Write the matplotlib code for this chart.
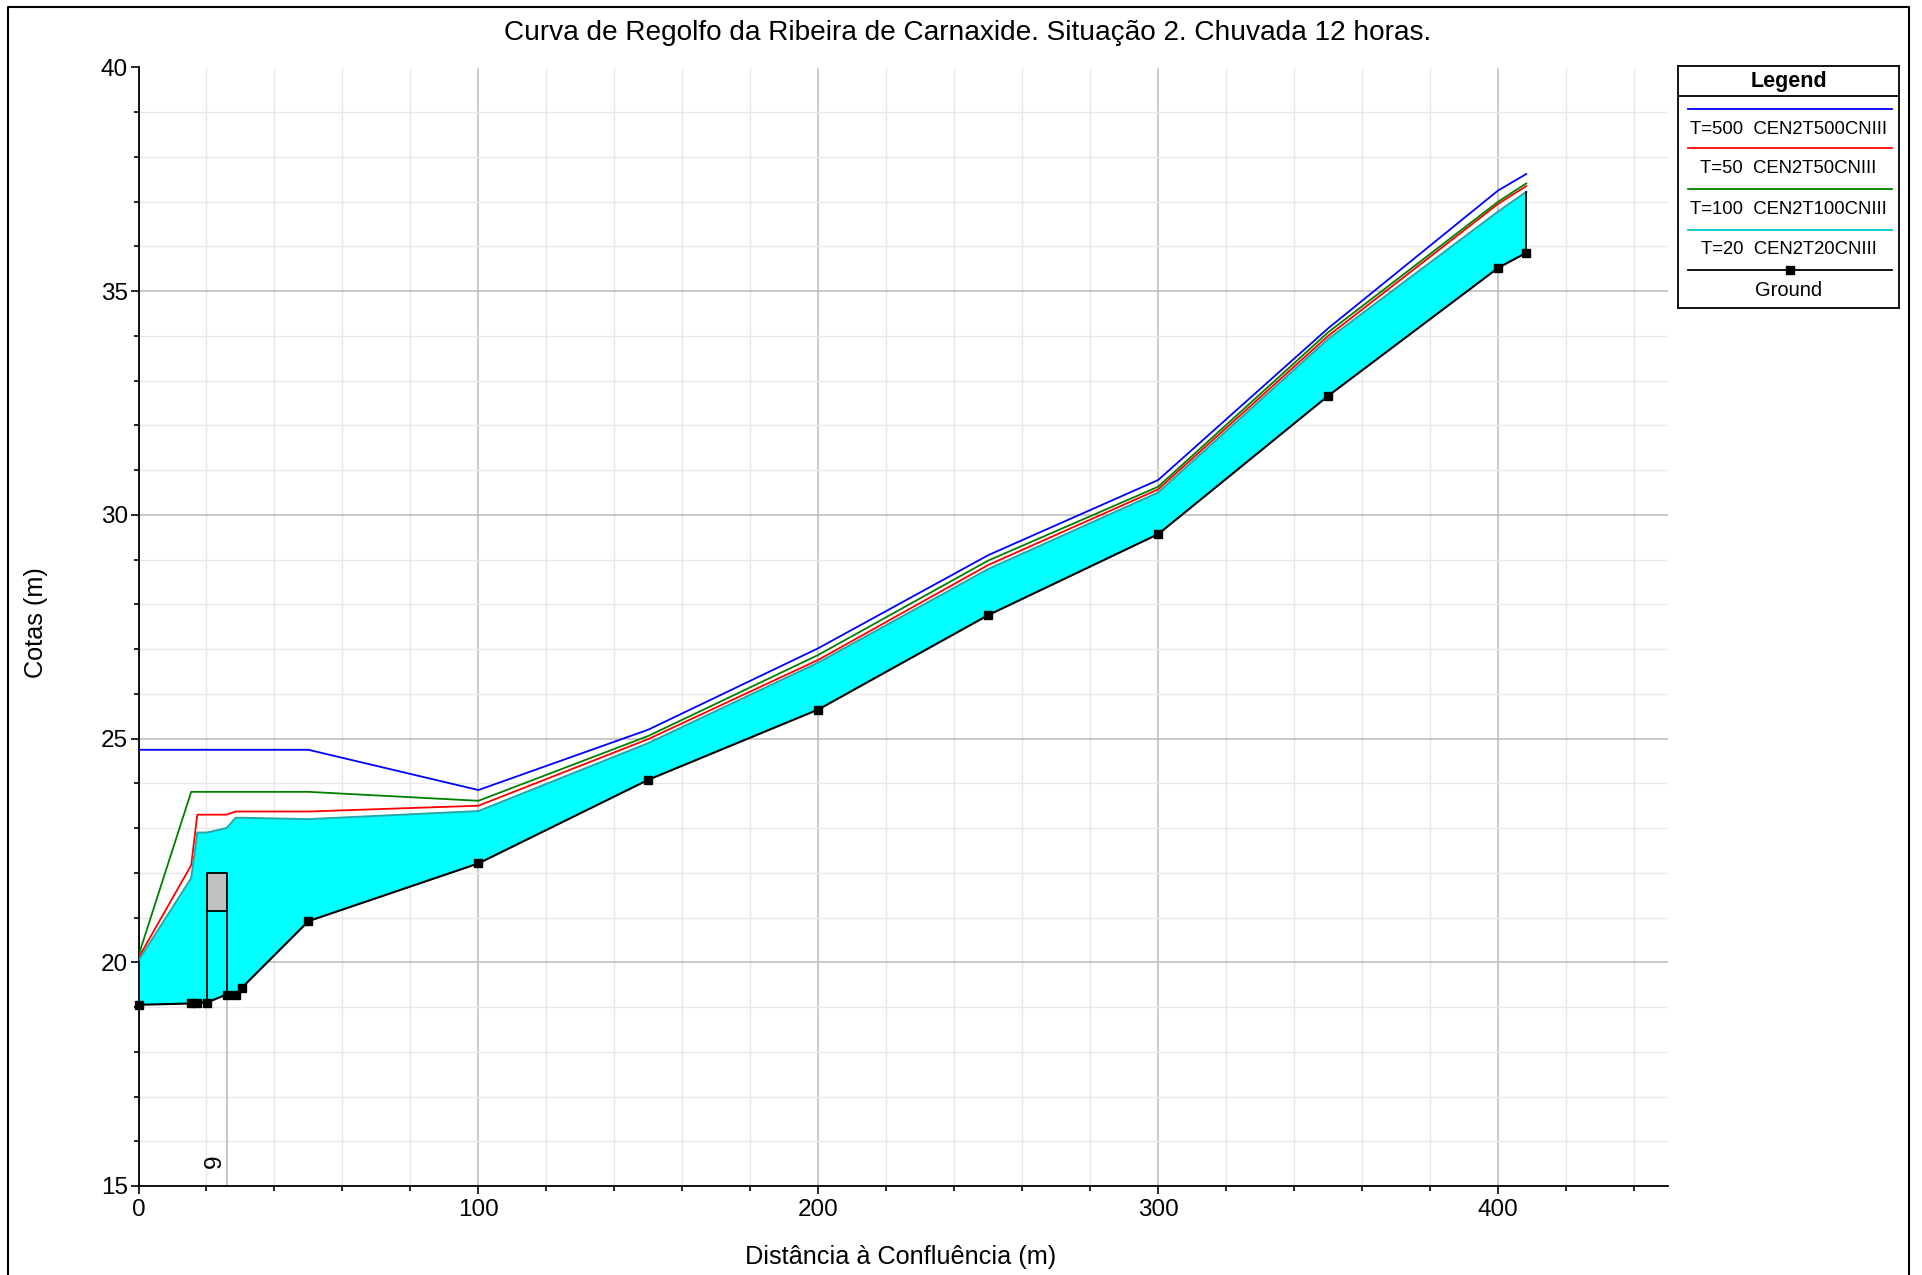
# -*- coding: utf-8 -*-
import numpy as np
from matplotlib import pyplot as plt
from matplotlib.lines import Line2D
from matplotlib.ticker import MultipleLocator

plt.rcParams["font.family"] = ["Liberation Sans", "DejaVu Sans"]

W, H = 1922, 1275

stations = [0, 15.5, 17.3, 20.1, 25.9, 28.6, 30.4, 50, 100, 150, 200, 250, 300, 350, 400, 408.3]
ground = [19.05, 19.08, 19.1, 19.1, 19.28, 19.28, 19.43, 20.92, 22.21, 24.08, 25.65, 27.76, 29.57, 32.66, 35.52, 35.86]
t20 = [20.04, 21.88, 22.9, 22.9, 23.0, 23.23, 23.23, 23.2, 23.38, 24.9, 26.7, 28.79, 30.5, 33.93, 36.78, 37.22]
t50 = [20.1, 22.17, 23.3, 23.3, 23.3, 23.37, 23.37, 23.37, 23.5, 24.99, 26.76, 28.88, 30.57, 34.0, 36.95, 37.35]
t100 = [20.15, 23.81, 23.81, 23.81, 23.81, 23.81, 23.81, 23.81, 23.61, 25.06, 26.87, 28.98, 30.63, 34.08, 37.0, 37.41]
t500 = [24.75, 24.75, 24.75, 24.75, 24.75, 24.75, 24.75, 24.75, 23.85, 25.2, 27.02, 29.1, 30.78, 34.17, 37.25, 37.62]

bridge_x = [20.1, 25.9]
bridge_low = 21.15
bridge_top = 22.0
bridge_ground = [19.1, 19.28]

legend_labels = ["T=500  CEN2T500CNIII", "T=50  CEN2T50CNIII", "T=100  CEN2T100CNIII", "T=20  CEN2T20CNIII", "Ground"]
legend_colors = ["#0000ff", "#ff0000", "#008000", "#00c8c8", "black"]

fig = plt.figure(figsize=(W / 100, H / 100), dpi=100)
ax = fig.add_axes([138.5 / W, 1 - 1186 / H, (1668 - 138.5) / W, (1186 - 67.5) / H])

ax.set_xlim(0, 450)
ax.set_ylim(15, 40)
ax.xaxis.set_major_locator(MultipleLocator(100))
ax.xaxis.set_minor_locator(MultipleLocator(20))
ax.yaxis.set_major_locator(MultipleLocator(5))
ax.yaxis.set_minor_locator(MultipleLocator(1))
ax.grid(which="major", color="#c0c0c0", lw=1.2)
ax.grid(which="minor", color="#e8e8e8", lw=1.0)
ax.set_axisbelow(True)
for s in ["top", "right"]:
    ax.spines[s].set_visible(False)
for s in ["left", "bottom"]:
    ax.spines[s].set_linewidth(1.3)
ax.tick_params(which="major", length=6, width=1.2, labelsize=17.5, pad=1.5)
ax.tick_params(axis="x", which="major", pad=3)
ax.tick_params(which="minor", length=3.6, width=1.2)

ax.fill_between(stations, ground, t20, color="#00ffff", lw=0, zorder=2)
ax.plot([bridge_x[1], bridge_x[1]], [15, bridge_ground[1]], color="#b8b8b8", lw=1.1, zorder=2)

# bridge
ax.fill_between(bridge_x, bridge_low, bridge_top, color="#c0c0c0", lw=0, zorder=3)
ax.plot([bridge_x[0], bridge_x[0], bridge_x[1], bridge_x[1]],
        [bridge_ground[0], bridge_top, bridge_top, bridge_ground[1]], color="black", lw=1.3, zorder=4)
ax.plot(bridge_x, [bridge_low, bridge_low], color="black", lw=1.3, zorder=4)
ax.text(bridge_x[1] - 0.2, 15.55, "9", rotation=90, fontsize=17.5, ha="right", va="center")

ax.plot(stations, t500, color=legend_colors[0], lw=1.3, zorder=5)
ax.plot(stations, t50, color=legend_colors[1], lw=1.3, zorder=5)
ax.plot(stations, t100, color=legend_colors[2], lw=1.3, zorder=5)
ax.plot(stations, t20, color="#20a8a8", lw=1.4, zorder=5)
ax.plot([stations[-1], stations[-1]], [ground[-1], t20[-1]], color="black", lw=1.3, zorder=5)
ax.plot(stations, ground, color="black", lw=1.5, marker="s", ms=5.8, zorder=6, clip_on=False)

ax.set_xlabel("Distância à Confluência (m)", fontsize=18.2, labelpad=17.5, x=0.4985)
ax.set_ylabel("Cotas (m)", fontsize=18.2, labelpad=38, y=0.504)
fig.text(968 / W, 1 - 33 / H, "Curva de Regolfo da Ribeira de Carnaxide. Situação 2. Chuvada 12 horas.",
         fontsize=20.2, ha="center", va="center")

# outer frame, runs off the bottom of the image
fig.add_artist(Line2D([8 / W, 8 / W, 1909 / W, 1909 / W], [0, 1 - 7 / H, 1 - 7 / H, 0], color="black", lw=1.5))

# legend box, laid out in image pixels
lg = fig.add_axes([1678 / W, 1 - 308 / H, (1899 - 1678) / W, (308 - 66) / H])
lg.set_xlim(1678, 1899)
lg.set_ylim(308, 66)
lg.set_xticks([])
lg.set_yticks([])
for s in lg.spines.values():
    s.set_linewidth(1.3)
lg.axhline(96, color="black", lw=1.3)
lg.text(1788.5, 81.5, "Legend", fontsize=15.5, fontweight="bold", ha="center", va="center")
line_y = [108.5, 148, 189, 230, 270]
text_y = [129, 168.5, 209.5, 250, 290]
for lab, col, ly, ty in zip(legend_labels, legend_colors, line_y, text_y):
    lg.plot([1688, 1892], [ly, ly], color=col, lw=1.3)
    lg.text(1788.5, ty, lab, fontsize=14.5 if lab == "Ground" else 13.3, ha="center", va="center")
lg.plot([1790], [270], color="black", marker="s", ms=5.8)

fig.savefig("out.png", dpi=100)
